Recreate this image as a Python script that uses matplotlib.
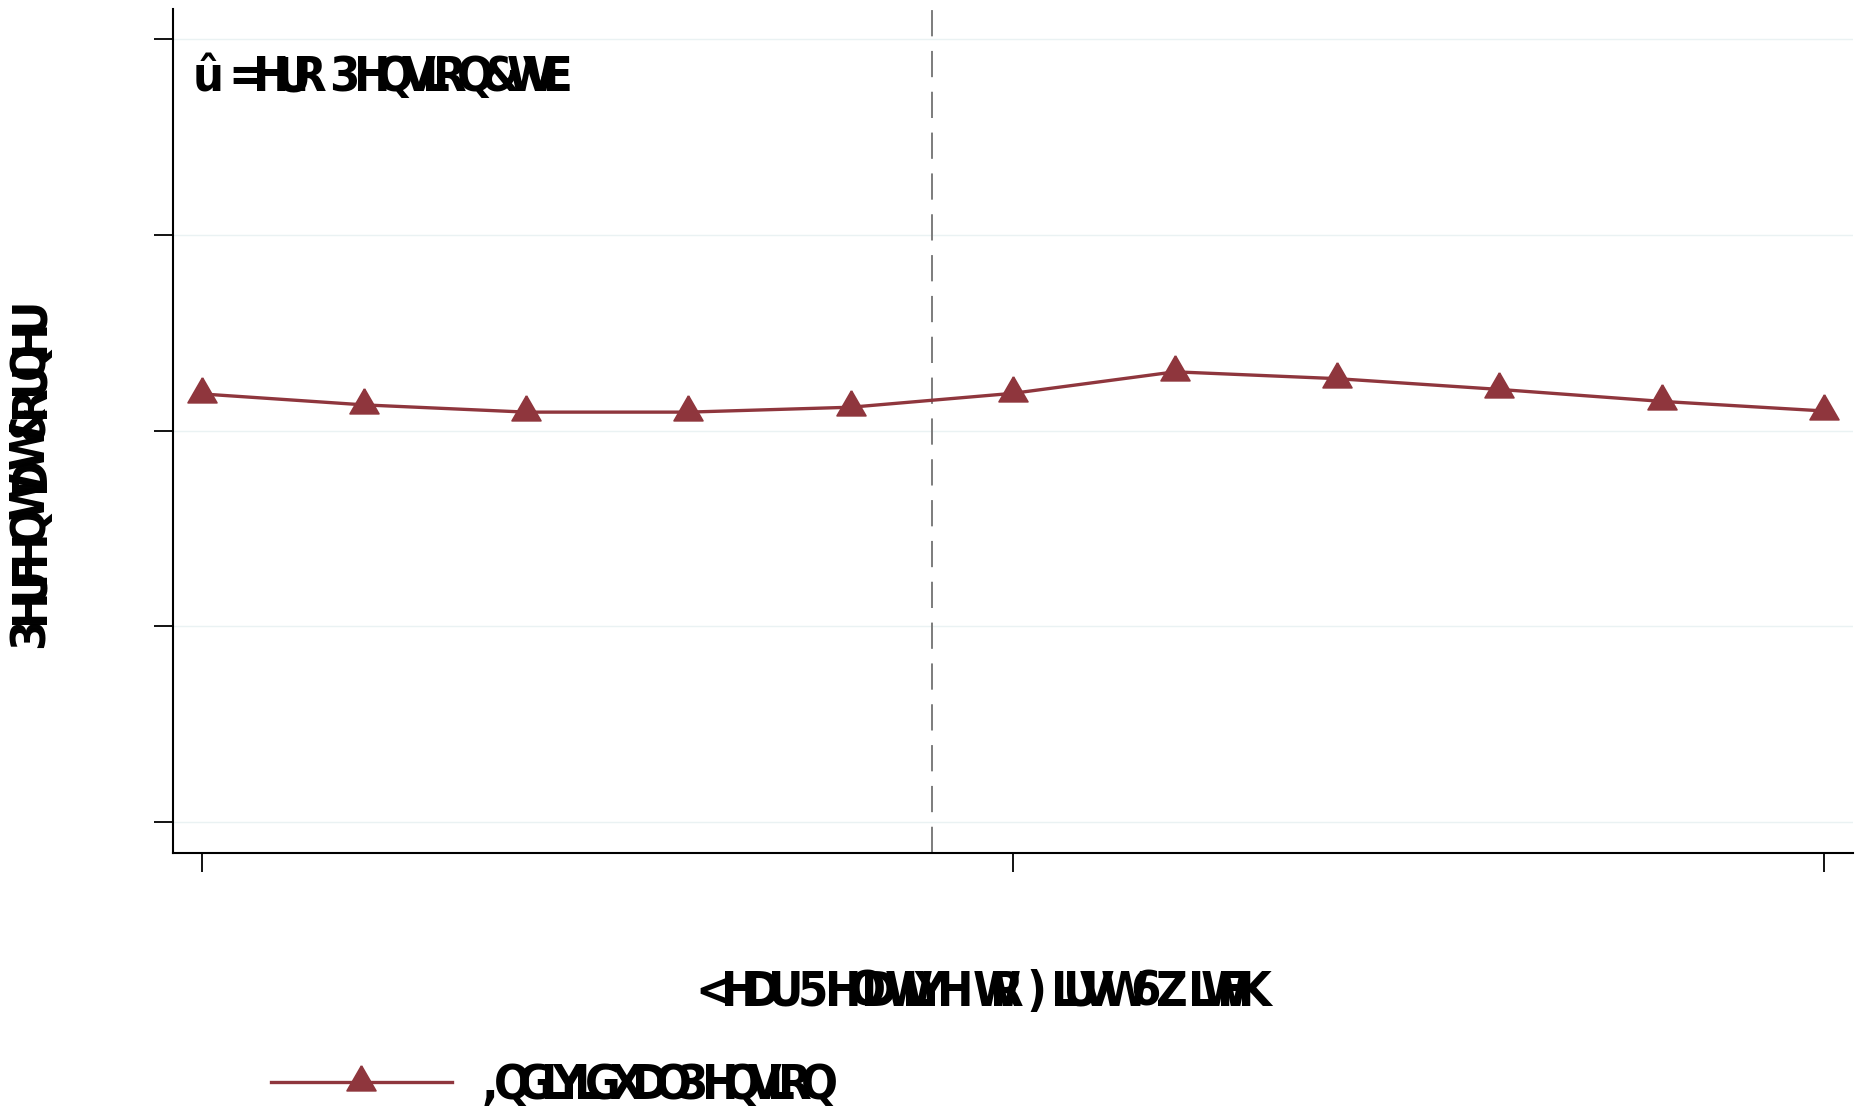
import numpy as np
import matplotlib
matplotlib.use("Agg")
import matplotlib.pyplot as plt
from matplotlib.lines import Line2D
from matplotlib.markers import MarkerStyle
from matplotlib import font_manager as fm
from matplotlib.font_manager import FontProperties, findfont
from matplotlib.ft2font import FT2Font

# ---- data -------------------------------------------------------------
years = [-5, -4, -3, -2, -1, 0, 1, 2, 3, 4, 5]
share = [0.2187, 0.2131, 0.2094, 0.2094, 0.2119, 0.2190,
         0.2300, 0.2265, 0.2210, 0.2149, 0.2100]
y_ticks = [0.0, 0.1, 0.2, 0.3, 0.4]
x_ticks = [-5, 0, 5]
switch_line = -0.5

# text strings as they are set in the offset-encoded font
title_text = "\u00fb =HUR 3HQVLRQ&WVE"
x_title = "<HDU 5HODWLYH WR )LUVW 6ZLWFK"
y_title = "3HUFHQW DW &RUQHU"
series_name = ",QGLYLGXDO 3HQVLRQ"

# ---- figure ---------------------------------------------------------
W, H, DPI = 1864, 1110, 100
fig = plt.figure(figsize=(W / DPI, H / DPI), dpi=DPI)
fig.patch.set_facecolor("white")

ax_l, ax_r, ax_b, ax_t = 172.6, 1853.0, 852.7, 9.5
ax = fig.add_axes([ax_l / W, (H - ax_b) / H, (ax_r - ax_l) / W, (ax_b - ax_t) / H])

LINE_C = "#8f363d"
tri = MarkerStyle([(0, 0.577), (-0.5, -0.289), (0.5, -0.289), (0, 0.577)],
                  joinstyle="round")

for yv in y_ticks:
    ax.axhline(yv, color="#eaf2f3", lw=1.0, zorder=0)

ax.axvline(switch_line, color="#7c7c7c", lw=1.4,
           linestyle=(0, (13.5, 7.5)), zorder=1)

ax.plot(years, share, color=LINE_C, lw=2.4, marker=tri, markersize=24,
        markerfacecolor=LINE_C, markeredgecolor=LINE_C, markeredgewidth=1.2,
        zorder=3, solid_joinstyle="round")

ax.set_xlim(-5.18, 5.18)
ax.set_ylim(-0.0158, 0.4152)
ax.set_xticks(x_ticks)
ax.set_yticks(y_ticks)
ax.tick_params(axis="both", direction="out", length=14, width=1.3,
               color="black", labelleft=False, labelbottom=False)
for s in ("top", "right"):
    ax.spines[s].set_visible(False)
for s in ("left", "bottom"):
    ax.spines[s].set_linewidth(1.5)
    ax.spines[s].set_color("black")


# ---- condensed bold face ------------------------------------------------
def pick_condensed_bold():
    prefs = ("LiberationSansNarrow-Bold", "ArialNarrow", "DejaVuSansCondensed-Bold",
             "OpenSans_Condensed-Bold", "OpenSansCondensed-Bold",
             "RobotoCondensed-Bold", "Roboto_Condensed-Bold")
    files = [f.fname for f in fm.fontManager.ttflist]
    for key in prefs:
        for fn in files:
            base = fn.split("/")[-1]
            if base.startswith(key) and "Oblique" not in base and "Italic" not in base:
                return fn
    return findfont(FontProperties(family="Liberation Sans", weight="bold"))


FONT_PATH = pick_condensed_bold()
FONT = FontProperties(fname=FONT_PATH)
_ft = FT2Font(FONT_PATH)
_ft.set_size(100, 72)

EM_PX = 48.5
FS = EM_PX * 72.0 / DPI


def adv(ch):
    try:
        return _ft.load_char(ord(ch)).linearHoriAdvance / 65536.0 / 100.0
    except Exception:
        return 0.5


def src_adv(glyph):
    return adv(" ") if glyph == " " else adv(chr(ord(glyph) + 29))


def draw_encoded(text, start, end, cross, vertical=False):
    """Set each glyph at the advance of its source character, spread from start to end (px)."""
    steps = [src_adv(c) for c in text[:-1]]
    span = abs(end - start) - adv(text[-1]) * EM_PX
    pitch = span / (sum(steps) * EM_PX)
    sign = -1 if vertical else 1
    pos = 0.0
    for i, ch in enumerate(text):
        if vertical:
            px, py, rot = cross, start - pos, 90
        else:
            px, py, rot = start + pos, cross, 0
        if ch != " ":
            fig.text(px / W, (H - py) / H, ch, fontproperties=FONT, fontsize=FS,
                     ha="left", va="baseline", rotation=rot,
                     rotation_mode="anchor", color="black")
        if i < len(steps):
            pos += steps[i] * EM_PX * pitch


draw_encoded(title_text, 193, 573, 91)
draw_encoded(x_title, 695, 1272, 1006)
draw_encoded(y_title, 648, 297, 44, vertical=True)

# legend key
fig.add_artist(Line2D([271 / W, 452 / W], [(H - 1082) / H] * 2,
                      transform=fig.transFigure, color=LINE_C, lw=2.4))
fig.add_artist(Line2D([361 / W], [(H - 1082) / H], transform=fig.transFigure,
                      marker=tri, markersize=24, color=LINE_C,
                      markeredgewidth=1.2, linestyle="none"))
draw_encoded(series_name, 482, 838, 1099)

fig.savefig("out.png", dpi=DPI, facecolor="white")
